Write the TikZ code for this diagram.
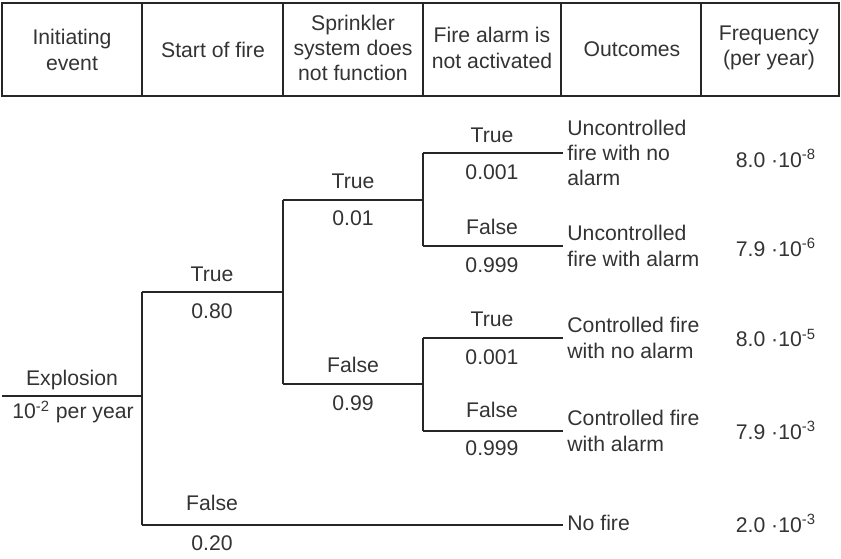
\documentclass[tikz,border=0pt]{standalone}
\usepackage{fontspec}
\setmainfont{Liberation Sans}
\usetikzlibrary{positioning}

\begin{document}
\begin{tikzpicture}[
    x=0.5pt, y=-0.5pt,
    font=\fontsize{10.6}{12.7}\selectfont,
    every node/.style={text=black!80},
    headcell/.style={align=center},
    problabel/.style={inner sep=0pt},
    outcome/.style={align=left, anchor=west, inner sep=0pt},
    freq/.style={inner sep=0pt},
    branch/.style={black!85, line width=0.65pt},
    grid/.style={black!85, line width=0.8pt}
]
\useasboundingbox (0,0) rectangle (841,558);

% X positions (column borders)
\def\xa{2}
\def\xb{142}
\def\xc{283}
\def\xd{423}
\def\xe{563}

% ---------- Header ----------
\draw[grid] (2,3) rectangle (839,96);
\foreach \x in {142,283,423,561,701}
    \draw[grid] (\x,3) -- (\x,96);

\node[headcell] (hInit) at (72,50) {Initiating\\event};
\node[headcell] (hStart) at (213,50) {Start of fire};
\node[headcell] (hSprink) at (353,48) {Sprinkler\\system does\\not function};
\node[headcell] (hAlarm) at (492,48) {Fire alarm is\\not activated};
\node[headcell] (hOut) at (632,49) {Outcomes};
\node[headcell] (hFreq) at (769,48) {Frequency\\(per year)};

% ---------- Tree points ----------
\coordinate (ev) at (\xa,396);
\coordinate (n0) at (\xb,396);
\coordinate (n0t) at (\xb,292);
\coordinate (n0f) at (\xb,525);
\coordinate (n1) at (\xc,292);
\coordinate (n1t) at (\xc,200);
\coordinate (n1f) at (\xc,384);
\coordinate (n2) at (\xd,200);
\coordinate (n2t) at (\xd,153);
\coordinate (n2f) at (\xd,246);
\coordinate (n3) at (\xd,384);
\coordinate (n3t) at (\xd,338);
\coordinate (n3f) at (\xd,431);
\coordinate (e1) at (\xe,153);
\coordinate (e2) at (\xe,246);
\coordinate (e3) at (\xe,338);
\coordinate (e4) at (\xe,431);
\coordinate (e5) at (\xe,525);

% ---------- Branches ----------
\draw[branch] (ev) -- (n0);
\draw[branch] (n0t) -- (n0f);
\draw[branch] (n0t) -- (n1);
\draw[branch] (n0f) -- (e5);
\draw[branch] (n1t) -- (n1f);
\draw[branch] (n1t) -- (n2);
\draw[branch] (n1f) -- (n3);
\draw[branch] (n2t) -- (n2f);
\draw[branch] (n2t) -- (e1);
\draw[branch] (n2f) -- (e2);
\draw[branch] (n3t) -- (n3f);
\draw[branch] (n3t) -- (e3);
\draw[branch] (n3f) -- (e4);

% ---------- Initiating event ----------
\node (evName) at (72,380) {Explosion};
\node (evRate) at (73,412) {10\textsuperscript{-2} per year};

% ---------- Probabilities ----------
\node[problabel] (p0t) at (212,274) {True};
\node[problabel] (p0tv) at (212,311) {0.80};
\node[problabel] (p0f) at (212,503) {False};
\node[problabel] (p0fv) at (212,543) {0.20};

\node[problabel] (p1t) at (353,181) {True};
\node[problabel] (p1tv) at (353,218) {0.01};
\node[problabel] (p1f) at (353,365) {False};
\node[problabel] (p1fv) at (353,403) {0.99};

\node[problabel] (p2t) at (492,135) {True};
\node[problabel] (p2tv) at (492,172) {0.001};
\node[problabel] (p2f) at (492,227) {False};
\node[problabel] (p2fv) at (492,265) {0.999};

\node[problabel] (p3t) at (492,319) {True};
\node[problabel] (p3tv) at (492,357) {0.001};
\node[problabel] (p3f) at (492,410) {False};
\node[problabel] (p3fv) at (492,448) {0.999};

% ---------- Outcomes ----------
\node[outcome] (o1) at (567,153) {Uncontrolled\\fire with no\\alarm};
\node[outcome] (o2) at (567,246) {Uncontrolled\\fire with alarm};
\node[outcome] (o3) at (567,338) {Controlled fire\\with no alarm};
\node[outcome] (o4) at (567,431) {Controlled fire\\with alarm};
\node[outcome] (o5) at (567,523) {No fire};

% ---------- Frequencies ----------
\node[freq] (f1) at (776,158) {8.0 ·10\textsuperscript{-8}};
\node[freq] (f2) at (776,247) {7.9 ·10\textsuperscript{-6}};
\node[freq] (f3) at (776,338) {8.0 ·10\textsuperscript{-5}};
\node[freq] (f4) at (776,430) {7.9 ·10\textsuperscript{-3}};
\node[freq] (f5) at (776,523) {2.0 ·10\textsuperscript{-3}};

\end{tikzpicture}
\end{document}
